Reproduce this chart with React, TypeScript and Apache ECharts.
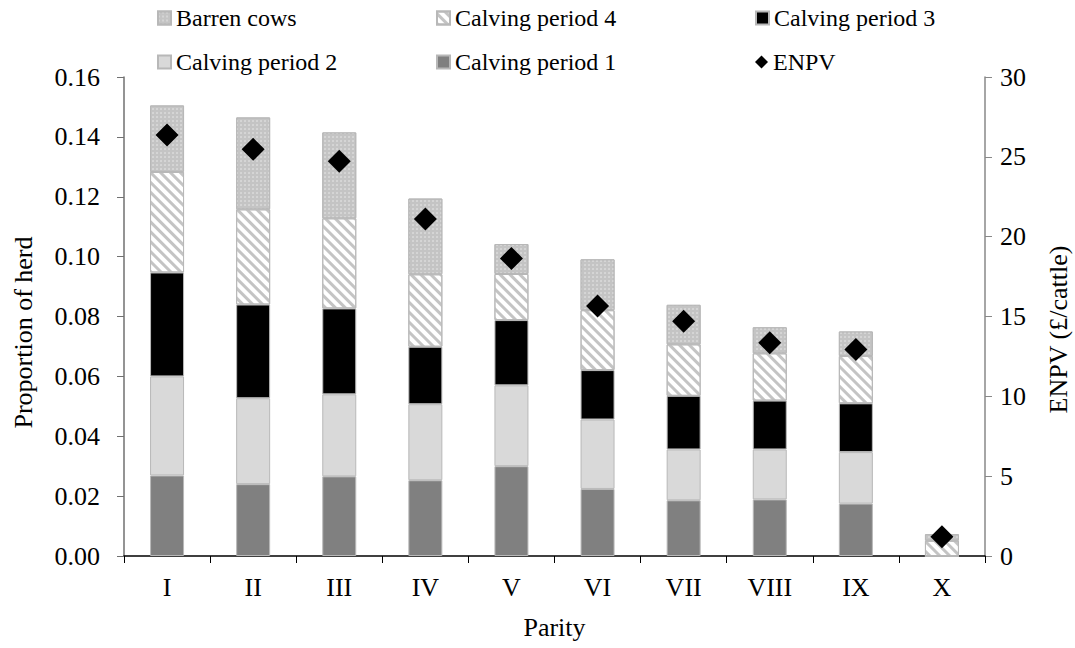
import React, { useEffect, useRef } from "react";
import * as echarts from "echarts";

const categories = ["I", "II", "III", "IV", "V", "VI", "VII", "VIII", "IX", "X"];
const calving1 = [0.0269, 0.024, 0.0266, 0.0253, 0.03, 0.0224, 0.0186, 0.0189, 0.0175, 0];
const calving2 = [0.0331, 0.0287, 0.0274, 0.0254, 0.027, 0.0232, 0.017, 0.0167, 0.0172, 0];
const calving3 = [0.0347, 0.0313, 0.0287, 0.0192, 0.0218, 0.0165, 0.0179, 0.0163, 0.0163, 0];
const calving4 = [0.0336, 0.0318, 0.0301, 0.0242, 0.0154, 0.02, 0.0172, 0.0158, 0.0158, 0.0051];
const barren = [0.0222, 0.0307, 0.0287, 0.0253, 0.01, 0.017, 0.0132, 0.0087, 0.0082, 0.0022];
const enpv = [26.36, 25.47, 24.73, 21.1, 18.64, 15.65, 14.7, 13.36, 12.94, 1.21];
const leftTicks = { min: 0, max: 0.16, interval: 0.02 };
const rightTicks = { min: 0, max: 30, interval: 5 };

const FONT = "Liberation Serif";

export default function App() {
  const ref = useRef<HTMLDivElement>(null);
  useEffect(() => {
    document.body.style.margin = "0";
    const chart = echarts.init(ref.current!, null, { renderer: "svg" });
    const border = { borderColor: "#b8b8b8", borderWidth: 1 };
    const stripeDecal = {
      symbol: "rect",
      dashArrayX: [1, 0],
      dashArrayY: [3, 3.5],
      rotation: Math.PI / 4,
      color: "#c4c4c4",
    };
    const dotDecal = {
      symbol: "circle",
      symbolSize: 0.7,
      dashArrayX: [1.5, 1.5],
      dashArrayY: [1.5, 1.5],
      color: "rgba(255,255,255,0.7)",
    };
    const text = { fontFamily: FONT, fontSize: 26, color: "#000" };
    const legendCommon = {
      orient: "horizontal",
      padding: 0,
      itemWidth: 13,
      itemHeight: 13,
      itemGap: 5,
      textStyle: { ...text, fontSize: 24 },
    };
    const mkLegend = (name: string, left: number, top: number, icon = "rect") => ({
      ...legendCommon,
      data: [{ name, icon }],
      left,
      top,
    });
    const barBase = {
      type: "bar",
      stack: "herd",
      barWidth: 34,
      yAxisIndex: 0,
    };
    chart.setOption({
      animation: false,
      backgroundColor: "#fff",
      legend: [
        mkLegend("Barren cows", 157, 6),
        mkLegend("Calving period 4", 436, 6),
        mkLegend("Calving period 3", 755, 6),
        mkLegend("Calving period 2", 157, 50),
        mkLegend("Calving period 1", 436, 50),
        mkLegend("ENPV", 755, 50, "diamond"),
      ],
      grid: { left: 124, right: 90, top: 77, bottom: 92, containLabel: false, outerBoundsMode: "none" },
      xAxis: {
        type: "category",
        data: categories,
        name: "Parity",
        nameLocation: "middle",
        nameGap: 58,
        nameMoveOverlap: false,
        nameTextStyle: text,
        axisLine: { lineStyle: { color: "#000", width: 1.5 } },
        axisTick: { show: true, length: 7, lineStyle: { color: "#000" } },
        axisLabel: { ...text, margin: 18 },
      },
      yAxis: [
        {
          type: "value",
          ...leftTicks,
          name: "Proportion of herd",
          nameLocation: "middle",
          nameGap: 88,
          nameMoveOverlap: false,
          nameTextStyle: { ...text, padding: [0, 32, 0, 0] },
          splitLine: { show: false },
          axisLine: { show: true, lineStyle: { color: "#707070", width: 1.5 } },
          axisTick: { show: true, length: 7, lineStyle: { color: "#707070" } },
          axisLabel: {
            ...text,
            margin: 24,
            formatter: (v: number) => v.toFixed(2),
          },
        },
        {
          type: "value",
          ...rightTicks,
          position: "right",
          name: "ENPV (£/cattle)",
          nameLocation: "middle",
          nameGap: 60,
          nameMoveOverlap: false,
          nameRotate: 90,
          nameTextStyle: { ...text, padding: [0, 26, 0, 0] },
          splitLine: { show: false },
          axisLine: { show: true, lineStyle: { color: "#888", width: 1.5 } },
          axisTick: { show: true, length: 7, lineStyle: { color: "#888" } },
          axisLabel: { ...text, margin: 15 },
        },
      ],
      series: [
        { ...barBase, name: "Calving period 1", data: calving1, itemStyle: { color: "#808080", ...border } },
        { ...barBase, name: "Calving period 2", data: calving2, itemStyle: { color: "#d9d9d9", ...border } },
        { ...barBase, name: "Calving period 3", data: calving3, itemStyle: { color: "#000", ...border } },
        { ...barBase, name: "Calving period 4", data: calving4, itemStyle: { color: "#fff", decal: stripeDecal, ...border } },
        { ...barBase, name: "Barren cows", data: barren, itemStyle: { color: "#c4c4c4", decal: dotDecal, ...border } },
        {
          type: "scatter",
          name: "ENPV",
          yAxisIndex: 1,
          data: enpv,
          symbol: "diamond",
          symbolSize: 23,
          itemStyle: { color: "#000", opacity: 1 },
          z: 10,
        },
      ],
    });
    return () => chart.dispose();
  }, []);
  return <div ref={ref} style={{ width: 1075, height: 648 }} />;
}
